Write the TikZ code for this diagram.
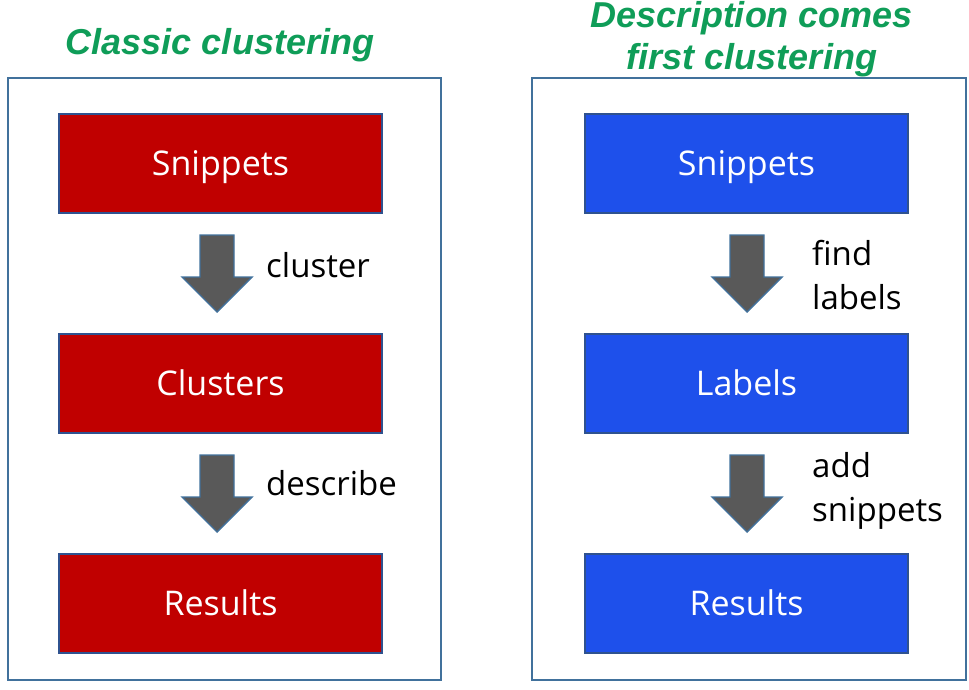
\documentclass[tikz,border=0pt]{standalone}
\usepackage{fontspec}
\setmainfont{Open Sans}
\newfontfamily\titlefont{Liberation Sans}
\definecolor{frameblue}{HTML}{41719C}
\definecolor{boxedge}{HTML}{2F528F}
\definecolor{redfill}{HTML}{C00000}
\definecolor{bluefill}{HTML}{1E50EB}
\definecolor{arrowgray}{HTML}{595959}
\definecolor{titlegreen}{HTML}{0F9D58}
\tikzset{
  frame/.style={draw=frameblue, line width=1.6pt},
  redbox/.style={draw=boxedge, line width=1.6pt, fill=redfill, minimum width=323pt, minimum height=99pt, text=white, font=\fontsize{34}{40}\selectfont, inner sep=0pt, text height=24.3pt, text depth=0pt},
  bluebox/.style={redbox, fill=bluefill},
  fatarrow/.style={draw=frameblue, line width=1.4pt, fill=arrowgray, line join=miter},
  steplabel/.style={anchor=west, align=left, font=\fontsize{33}{44}\selectfont, inner sep=0pt},
  titletext/.style={text=titlegreen, font=\titlefont\fontsize{36}{42}\selectfont\bfseries\itshape, align=center, inner sep=0pt}
}
\newcommand{\downarrowshape}[2]{% center x, top y
  \filldraw[fatarrow] (#1-17,#2) -- (#1+17,#2) -- (#1+17,#2+42) -- (#1+35,#2+42) -- (#1,#2+77) -- (#1-35,#2+42) -- (#1-17,#2+42) -- cycle;
}
\begin{document}
\begin{tikzpicture}[x=1pt,y=-1pt]
\useasboundingbox (0,0) rectangle (969,689);
% titles
\node[titletext] (t1) at (220,45) {Classic clustering};
\node[titletext] (t2) at (752,39) {Description comes\\first clustering};
% frames
\draw[frame] (8,78) rectangle (441,680);
\draw[frame] (532,78) rectangle (966,680);
% left column
\node[redbox] (l1) at (220.5,163.5) {Snippets};
\node[redbox] (l2) at (220.5,383.5) {Clusters};
\node[redbox] (l3) at (220.5,603.5) {Results};
% right column
\node[bluebox] (r1) at (746.5,163.5) {Snippets};
\node[bluebox] (r2) at (746.5,383.5) {Labels};
\node[bluebox] (r3) at (746.5,603.5) {Results};
% arrows
\downarrowshape{217}{235}
\downarrowshape{217}{455}
\downarrowshape{747}{235}
\downarrowshape{747}{455}
% labels
\node[steplabel] (a1) at (266,265) {cluster};
\node[steplabel] (a2) at (266,483) {describe};
\node[steplabel] (a3) at (812,275) {find\\labels};
\node[steplabel] (a4) at (812,491) {add\\snippets};
\end{tikzpicture}
\end{document}
